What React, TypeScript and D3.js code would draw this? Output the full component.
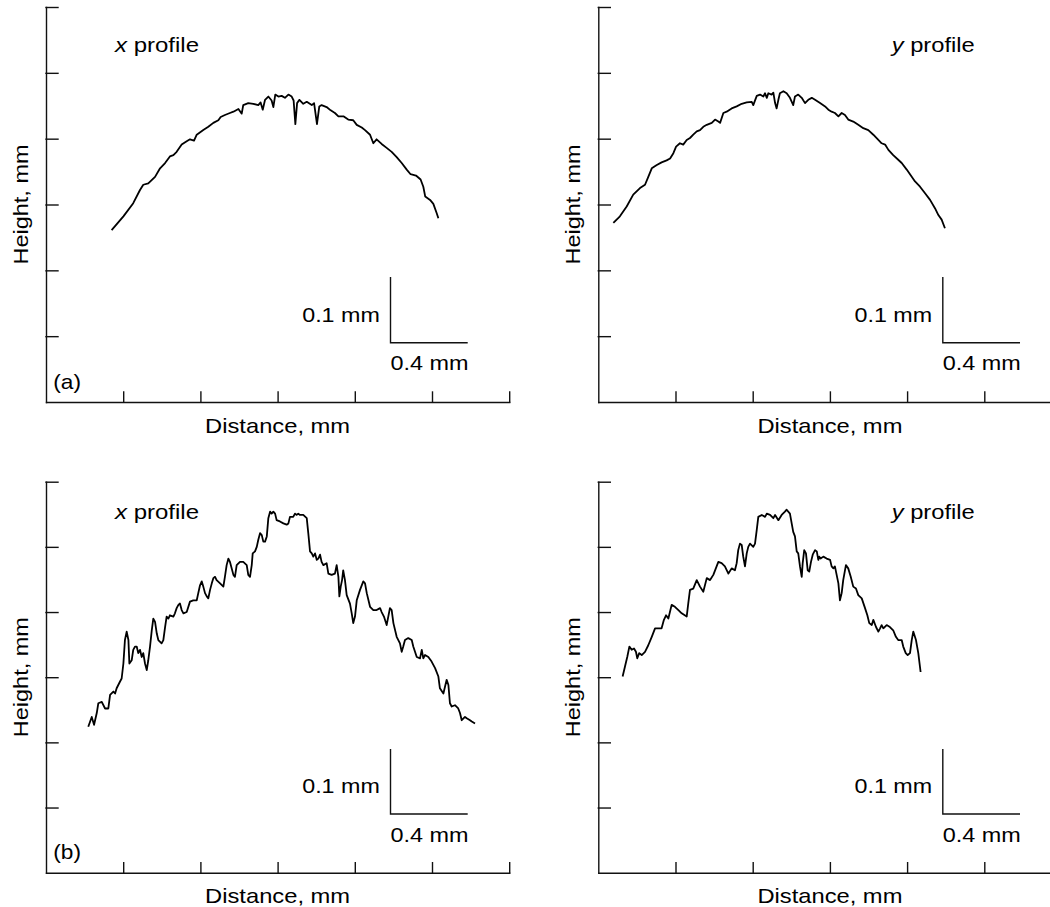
import * as d3 from 'd3';
import React, { useEffect, useRef } from 'react';

// profile points: [distance mm, height mm]
const xProfileA: [number, number][] = [
    [0.340, 0.261], [0.401, 0.282], [0.452, 0.302], [0.487, 0.322], [0.504, 0.330], [0.530, 0.332], [0.565, 0.342],
    [0.591, 0.355], [0.617, 0.363], [0.642, 0.373], [0.660, 0.375], [0.677, 0.380], [0.703, 0.391], [0.729, 0.396],
    [0.746, 0.399], [0.767, 0.397], [0.781, 0.406], [0.815, 0.413], [0.841, 0.418], [0.867, 0.424], [0.893, 0.428],
    [0.905, 0.433], [0.927, 0.436], [0.953, 0.439], [0.971, 0.441], [0.997, 0.445], [1.014, 0.438], [1.022, 0.451],
    [1.048, 0.454], [1.074, 0.453], [1.100, 0.451], [1.112, 0.455], [1.123, 0.444], [1.135, 0.459], [1.152, 0.464],
    [1.169, 0.458], [1.178, 0.448], [1.188, 0.467], [1.204, 0.464], [1.221, 0.465], [1.238, 0.462], [1.256, 0.467],
    [1.273, 0.464], [1.283, 0.458], [1.292, 0.422], [1.301, 0.454], [1.313, 0.459], [1.333, 0.453], [1.351, 0.456],
    [1.377, 0.451], [1.389, 0.454], [1.404, 0.422], [1.416, 0.449], [1.428, 0.451], [1.454, 0.448], [1.475, 0.443],
    [1.497, 0.439], [1.515, 0.434], [1.541, 0.434], [1.566, 0.429], [1.592, 0.428], [1.610, 0.421], [1.636, 0.417],
    [1.653, 0.413], [1.679, 0.406], [1.696, 0.393], [1.713, 0.399], [1.739, 0.392], [1.765, 0.386], [1.791, 0.380],
    [1.817, 0.372], [1.843, 0.363], [1.869, 0.353], [1.889, 0.346], [1.917, 0.344], [1.941, 0.338], [1.955, 0.327],
    [1.965, 0.312], [1.990, 0.307], [2.007, 0.301], [2.024, 0.287], [2.033, 0.279],
];

const yProfileA: [number, number][] = [
    [0.078, 0.272], [0.112, 0.282], [0.147, 0.297], [0.181, 0.315], [0.216, 0.325], [0.242, 0.330], [0.259, 0.342],
    [0.277, 0.355], [0.303, 0.360], [0.328, 0.364], [0.354, 0.367], [0.372, 0.370], [0.389, 0.378], [0.403, 0.388],
    [0.423, 0.393], [0.440, 0.391], [0.458, 0.398], [0.475, 0.401], [0.492, 0.406], [0.510, 0.411], [0.527, 0.413],
    [0.544, 0.418], [0.562, 0.421], [0.588, 0.424], [0.605, 0.429], [0.622, 0.426], [0.631, 0.424], [0.648, 0.439],
    [0.665, 0.441], [0.691, 0.446], [0.717, 0.449], [0.743, 0.453], [0.769, 0.455], [0.795, 0.456], [0.803, 0.451],
    [0.821, 0.465], [0.838, 0.467], [0.855, 0.464], [0.864, 0.469], [0.873, 0.462], [0.881, 0.469], [0.898, 0.467],
    [0.907, 0.470], [0.916, 0.454], [0.924, 0.446], [0.933, 0.459], [0.941, 0.469], [0.959, 0.472], [0.976, 0.469],
    [0.993, 0.462], [1.010, 0.451], [1.019, 0.464], [1.036, 0.467], [1.054, 0.462], [1.071, 0.454], [1.088, 0.459],
    [1.106, 0.462], [1.123, 0.459], [1.149, 0.454], [1.175, 0.449], [1.192, 0.444], [1.209, 0.441], [1.226, 0.439],
    [1.244, 0.434], [1.261, 0.439], [1.278, 0.436], [1.295, 0.429], [1.321, 0.426], [1.347, 0.421], [1.373, 0.416],
    [1.399, 0.413], [1.425, 0.406], [1.451, 0.398], [1.468, 0.393], [1.486, 0.391], [1.503, 0.383], [1.528, 0.375],
    [1.554, 0.368], [1.572, 0.363], [1.598, 0.353], [1.624, 0.342], [1.641, 0.335], [1.667, 0.327], [1.693, 0.317],
    [1.719, 0.307], [1.745, 0.294], [1.762, 0.284], [1.779, 0.277], [1.796, 0.264],
];

const xProfileB: [number, number][] = [
    [0.219, 0.224], [0.237, 0.239], [0.249, 0.227], [0.263, 0.245], [0.271, 0.260], [0.289, 0.262], [0.306, 0.252],
    [0.323, 0.252], [0.332, 0.273], [0.349, 0.278], [0.358, 0.275], [0.366, 0.283], [0.383, 0.293], [0.392, 0.298],
    [0.401, 0.321], [0.409, 0.357], [0.418, 0.370], [0.427, 0.357], [0.432, 0.321], [0.444, 0.326], [0.452, 0.342],
    [0.461, 0.347], [0.470, 0.347], [0.478, 0.337], [0.487, 0.342], [0.496, 0.331], [0.504, 0.337], [0.513, 0.321],
    [0.522, 0.311], [0.530, 0.326], [0.539, 0.347], [0.548, 0.372], [0.556, 0.390], [0.565, 0.385], [0.574, 0.367],
    [0.582, 0.357], [0.599, 0.352], [0.608, 0.357], [0.617, 0.377], [0.625, 0.393], [0.634, 0.390], [0.642, 0.395],
    [0.660, 0.393], [0.668, 0.398], [0.677, 0.406], [0.686, 0.411], [0.694, 0.413], [0.703, 0.403], [0.712, 0.398],
    [0.729, 0.400], [0.746, 0.416], [0.763, 0.418], [0.781, 0.418], [0.789, 0.429], [0.798, 0.441], [0.807, 0.447],
    [0.815, 0.439], [0.824, 0.429], [0.833, 0.424], [0.841, 0.421], [0.850, 0.434], [0.859, 0.444], [0.867, 0.452],
    [0.876, 0.454], [0.884, 0.449], [0.902, 0.444], [0.919, 0.439], [0.927, 0.454], [0.936, 0.472], [0.945, 0.482],
    [0.953, 0.477], [0.971, 0.457], [0.979, 0.454], [0.988, 0.472], [1.005, 0.477], [1.022, 0.477], [1.040, 0.472],
    [1.048, 0.457], [1.057, 0.454], [1.066, 0.472], [1.071, 0.490], [1.083, 0.493], [1.092, 0.500], [1.100, 0.511],
    [1.109, 0.521], [1.118, 0.518], [1.126, 0.508], [1.135, 0.508], [1.144, 0.516], [1.152, 0.544], [1.161, 0.554],
    [1.169, 0.551], [1.178, 0.554], [1.187, 0.551], [1.195, 0.541], [1.212, 0.539], [1.230, 0.536], [1.247, 0.534],
    [1.256, 0.536], [1.264, 0.546], [1.281, 0.546], [1.290, 0.551], [1.299, 0.549], [1.307, 0.551], [1.316, 0.549],
    [1.333, 0.549], [1.351, 0.544], [1.359, 0.521], [1.368, 0.493], [1.377, 0.490], [1.385, 0.485], [1.394, 0.490],
    [1.403, 0.480], [1.411, 0.482], [1.420, 0.488], [1.428, 0.477], [1.437, 0.472], [1.454, 0.475], [1.463, 0.459],
    [1.480, 0.457], [1.497, 0.459], [1.506, 0.472], [1.515, 0.454], [1.520, 0.424], [1.527, 0.439], [1.534, 0.449],
    [1.540, 0.464], [1.549, 0.449], [1.558, 0.426], [1.575, 0.413], [1.584, 0.398], [1.592, 0.383], [1.601, 0.393],
    [1.610, 0.418], [1.627, 0.434], [1.636, 0.441], [1.644, 0.447], [1.653, 0.444], [1.662, 0.429], [1.679, 0.408],
    [1.696, 0.403], [1.713, 0.403], [1.731, 0.406], [1.739, 0.400], [1.751, 0.393], [1.765, 0.380], [1.782, 0.406],
    [1.791, 0.403], [1.800, 0.383], [1.817, 0.362], [1.834, 0.352], [1.843, 0.339], [1.851, 0.347], [1.860, 0.357],
    [1.877, 0.360], [1.895, 0.357], [1.903, 0.347], [1.921, 0.331], [1.938, 0.329], [1.947, 0.342], [1.955, 0.329],
    [1.964, 0.334], [1.981, 0.331], [1.998, 0.324], [2.016, 0.314], [2.033, 0.301], [2.041, 0.283], [2.059, 0.275],
    [2.067, 0.285], [2.076, 0.296], [2.085, 0.288], [2.093, 0.260], [2.102, 0.255], [2.119, 0.257], [2.136, 0.252],
    [2.145, 0.245], [2.154, 0.234], [2.171, 0.239], [2.180, 0.237], [2.197, 0.234], [2.206, 0.232], [2.223, 0.229],
];

const yProfileB: [number, number][] = [
    [0.126, 0.301], [0.138, 0.316], [0.150, 0.331], [0.161, 0.347], [0.173, 0.342], [0.185, 0.344], [0.195, 0.339],
    [0.202, 0.329], [0.212, 0.337], [0.225, 0.334], [0.242, 0.339], [0.259, 0.349], [0.277, 0.362], [0.294, 0.375],
    [0.311, 0.375], [0.328, 0.375], [0.340, 0.388], [0.351, 0.395], [0.363, 0.390], [0.380, 0.411], [0.397, 0.408],
    [0.415, 0.403], [0.432, 0.398], [0.458, 0.393], [0.466, 0.413], [0.475, 0.434], [0.492, 0.436], [0.510, 0.449],
    [0.527, 0.439], [0.544, 0.431], [0.562, 0.452], [0.579, 0.449], [0.596, 0.457], [0.613, 0.470], [0.622, 0.477],
    [0.639, 0.475], [0.656, 0.470], [0.674, 0.459], [0.691, 0.467], [0.708, 0.464], [0.717, 0.475], [0.725, 0.495],
    [0.734, 0.505], [0.743, 0.503], [0.751, 0.485], [0.760, 0.470], [0.769, 0.490], [0.777, 0.500], [0.786, 0.505],
    [0.803, 0.500], [0.812, 0.505], [0.821, 0.526], [0.829, 0.546], [0.847, 0.549], [0.864, 0.546], [0.873, 0.551],
    [0.890, 0.549], [0.907, 0.544], [0.916, 0.549], [0.933, 0.541], [0.950, 0.549], [0.967, 0.554], [0.976, 0.557],
    [0.993, 0.551], [1.002, 0.536], [1.010, 0.523], [1.019, 0.516], [1.028, 0.493], [1.036, 0.490], [1.045, 0.470],
    [1.054, 0.454], [1.059, 0.475], [1.067, 0.495], [1.076, 0.490], [1.085, 0.464], [1.093, 0.462], [1.102, 0.477],
    [1.111, 0.488], [1.123, 0.495], [1.132, 0.493], [1.140, 0.480], [1.145, 0.485], [1.152, 0.482], [1.166, 0.485],
    [1.183, 0.482], [1.201, 0.480], [1.209, 0.470], [1.218, 0.467], [1.226, 0.470], [1.244, 0.444], [1.252, 0.418],
    [1.261, 0.429], [1.269, 0.449], [1.283, 0.472], [1.295, 0.467], [1.308, 0.454], [1.321, 0.439], [1.335, 0.436],
    [1.347, 0.426], [1.365, 0.421], [1.382, 0.406], [1.394, 0.395], [1.404, 0.383], [1.417, 0.380], [1.425, 0.388],
    [1.439, 0.377], [1.451, 0.370], [1.460, 0.375], [1.468, 0.380], [1.477, 0.375], [1.494, 0.380], [1.511, 0.377],
    [1.528, 0.372], [1.542, 0.362], [1.554, 0.357], [1.572, 0.357], [1.580, 0.347], [1.593, 0.337], [1.603, 0.334],
    [1.615, 0.337], [1.624, 0.357], [1.632, 0.370], [1.646, 0.357], [1.658, 0.337], [1.670, 0.308],
];

const distanceTicks = [0.4, 0.8, 1.2, 1.6, 2.0, 2.4];
const heightTicks = [0.1, 0.2, 0.3, 0.4, 0.5, 0.6];

const FONT = '"Liberation Sans", Arial, Helvetica, sans-serif';
const PANEL_W = 463.2;

const panels = [
    { data: xProfileA, dir: 'x', tag: '(a)', left: 46, top: 7, bottom: 402, labelDx: 69, labelDy: 44.7, labelW: 84 },
    { data: yProfileA, dir: 'y', tag: '', left: 598.3, top: 7, bottom: 402, labelDx: 293.4, labelDy: 44.7, labelW: 83 },
    { data: xProfileB, dir: 'x', tag: '(b)', left: 46, top: 481.7, bottom: 872.7, labelDx: 69, labelDy: 37.6, labelW: 84 },
    { data: yProfileB, dir: 'y', tag: '', left: 598.3, top: 481.7, bottom: 872.7, labelDx: 293.4, labelDy: 37.6, labelW: 83 },
];

const addText = (g, txt, x, y, len, anchor = 'start') =>
    g.append('text')
        .attr('x', x)
        .attr('y', y)
        .attr('text-anchor', anchor)
        .attr('textLength', len)
        .attr('lengthAdjust', 'spacingAndGlyphs')
        .text(txt);

export default function App() {
    const ref = useRef(null);

    useEffect(() => {
        const svg = d3.select(ref.current);
        svg.selectAll('*').remove();

        const root = svg.append('g')
            .attr('font-family', FONT)
            .attr('font-size', 21)
            .attr('fill', '#000');

        panels.forEach((p) => {
            const g = root.append('g');
            const x = d3.scaleLinear().domain([0, 2.4]).range([p.left, p.left + PANEL_W]);
            const y = d3.scaleLinear().domain([0, 0.6]).range([p.bottom, p.top]);

            // axes, ticks pointing inwards, no labels
            const xAxis = g.append('g')
                .attr('transform', `translate(0,${p.bottom})`)
                .call(d3.axisBottom(x).tickValues(distanceTicks).tickSize(-10).tickSizeOuter(0).tickFormat(() => ''));
            const yAxis = g.append('g')
                .attr('transform', `translate(${p.left},0)`)
                .call(d3.axisLeft(y).tickValues(heightTicks).tickSize(-12).tickSizeOuter(0).tickFormat(() => ''));
            [xAxis, yAxis].forEach((a) => {
                a.selectAll('path, line').attr('stroke', '#111').attr('stroke-width', 1.4).attr('stroke-linecap', 'square');
                a.selectAll('text').remove();
            });

            // profile
            const line = d3.line().x((d) => x(d[0])).y((d) => y(d[1]));
            g.append('path')
                .datum(p.data)
                .attr('d', line)
                .attr('fill', 'none')
                .attr('stroke', '#000')
                .attr('stroke-width', 1.8)
                .attr('stroke-linejoin', 'round');

            // scale bar: 0.1 mm up, 0.4 mm across
            const bx = x(1.785);
            const by = y(0.09);
            g.append('path')
                .attr('d', `M${bx},${y(0.19)}V${by}H${x(1.785 + 0.4)}`)
                .attr('fill', 'none')
                .attr('stroke', '#111')
                .attr('stroke-width', 1.4);
            addText(g, '0.1 mm', bx - 10.7, by - 20.6, 77.6, 'end');
            addText(g, '0.4 mm', bx, by + 27.7, 78);

            // profile label
            const lbl = g.append('text')
                .attr('x', p.left + p.labelDx)
                .attr('y', p.top + p.labelDy)
                .attr('textLength', p.labelW)
                .attr('lengthAdjust', 'spacingAndGlyphs');
            lbl.append('tspan').attr('font-style', 'italic').text(p.dir);
            lbl.append('tspan').text(' profile');

            if (p.tag) addText(g, p.tag, p.left + 7.3, p.bottom - 13.5, 27.7);

            addText(g, 'Distance, mm', (p.left + p.left + PANEL_W) / 2, p.bottom + 30.7, 145, 'middle');

            g.append('text')
                .attr('transform', `translate(${p.left - 18},${(p.top + p.bottom) / 2}) rotate(-90)`)
                .attr('text-anchor', 'middle')
                .attr('textLength', 120)
                .attr('lengthAdjust', 'spacingAndGlyphs')
                .text('Height, mm');
        });
    }, []);

    return (
        <svg
            ref={ref}
            width={1050}
            height={907}
            style={{ position: 'absolute', left: 0, top: 0, background: '#fff', display: 'block' }}
        />
    );
}
